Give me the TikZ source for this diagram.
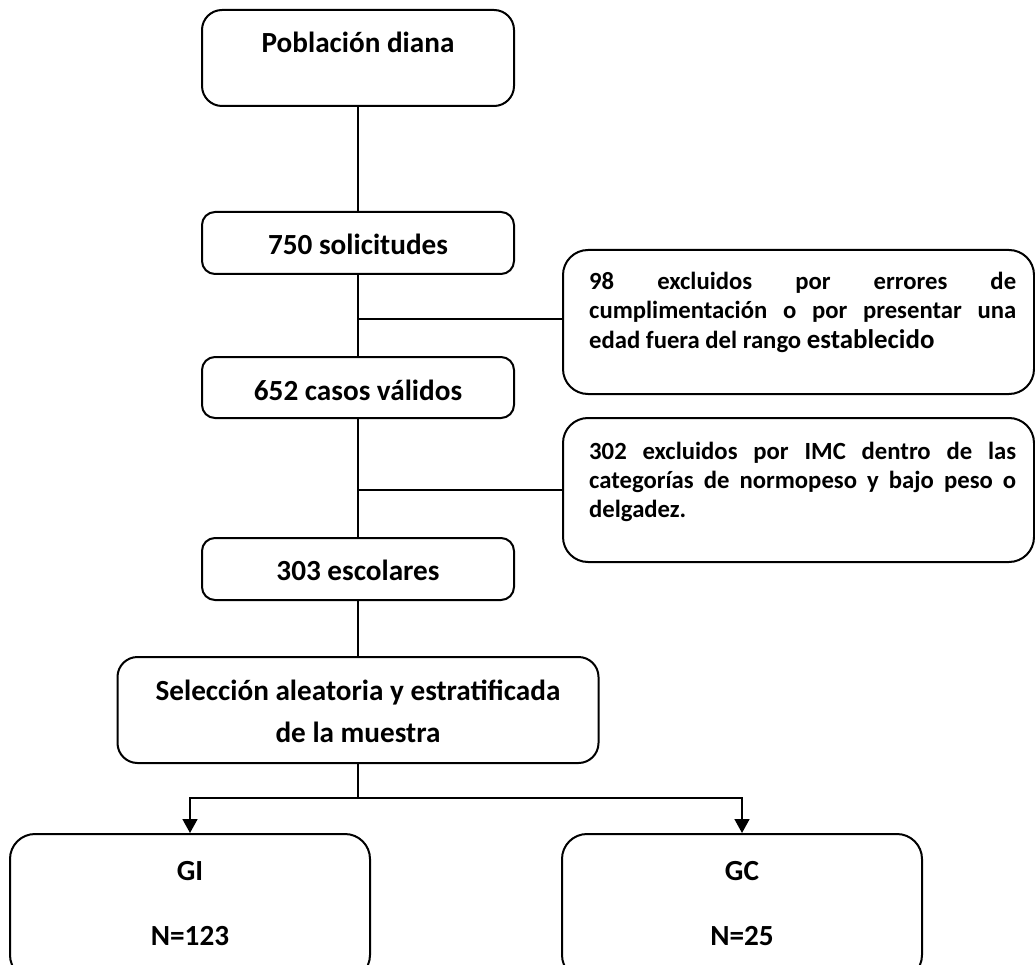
\documentclass[tikz,border=0pt]{standalone}
\usepackage{fontspec}
\setmainfont{Carlito}
\usetikzlibrary{arrows.meta}
\begin{document}
\begin{tikzpicture}[x=1pt,y=-1pt,
  box/.style={draw, line width=2pt, rounded corners=#1, inner sep=0pt},
  box/.default=13pt,
  lbl/.style={anchor=base, inner sep=0pt, font=\fontsize{29.2}{35}\selectfont\bfseries},
  sml/.style={anchor=base west, inner sep=0pt, font=\fontsize{24.7}{29}\selectfont\bfseries},
  conn/.style={line width=1.6pt},
  arr/.style={conn, -{Triangle[width=15pt,length=14pt]}}]
\path[use as bounding box] (0,0) rectangle (1035,965);
\clip (0,0) rectangle (1035,965);

% boxes
\node[box=20pt, minimum width=312pt, minimum height=96pt] (pob) at (358,58) {};
\node[box, minimum width=312pt, minimum height=62pt] (sol) at (358,243) {};
\node[box, minimum width=312pt, minimum height=61pt] (val) at (358,387.5) {};
\node[box, minimum width=312pt, minimum height=62pt] (esc) at (358,569) {};
\node[box=20pt, minimum width=481pt, minimum height=106pt] (sel) at (358,710) {};
\node[box=25pt, minimum width=471pt, minimum height=144pt] (ex1) at (798.5,322) {};
\node[box=25pt, minimum width=471pt, minimum height=144pt] (ex2) at (798.5,490) {};
\node[box=25pt, minimum width=360pt, minimum height=146pt] (gi) at (190,907) {};
\node[box=25pt, minimum width=360pt, minimum height=146pt] (gc) at (742,907) {};

% texts
\node[lbl] (tpob) at (358,53) {Población diana};
\node[lbl] (tsol) at (358,255) {750 solicitudes};
\node[lbl] (tval) at (358,400) {652 casos válidos};
\node[lbl] (tesc) at (358,580) {303 escolares};
\node[lbl] (tsel1) at (358,700) {Selección aleatoria y estratificada};
\node[lbl] (tsel2) at (358,742) {de la muestra};
\node[lbl] (tgi) at (190,880) {GI};
\node[lbl] (tgin) at (190,945) {N=123};
\node[lbl] (tgc) at (742,880) {GC};
\node[lbl] (tgcn) at (742,945) {N=25};

\node[sml] (t1a) at (589,290) {\makebox[427pt][s]{98 excluidos por errores de}};
\node[sml] (t1b) at (589,319) {\makebox[427pt][s]{cumplimentación o por presentar una}};
\node[sml] (t1c) at (589,348) {edad fuera del rango {\fontsize{26.9}{29}\selectfont establecido}};
\node[sml] (t2a) at (589,459) {\makebox[427pt][s]{302 excluidos por IMC dentro de las}};
\node[sml] (t2b) at (589,488) {\makebox[427pt][s]{categorías de normopeso y bajo peso o}};
\node[sml] (t2c) at (589,517) {delgadez.};

% connectors
\coordinate (b1) at (358,319);
\coordinate (b2) at (358,490);
\coordinate (sp) at (358,798);
\draw[conn] (pob.south) -- (sol.north);
\draw[conn] (sol.south) -- (val.north);
\draw[conn] (b1) -- (b1 -| ex1.west);
\draw[conn] (val.south) -- (esc.north);
\draw[conn] (b2) -- (b2 -| ex2.west);
\draw[conn] (esc.south) -- (sel.north);
\draw[conn] (sel.south) -- (sp);
\draw[arr] (sp) -| (gi.north);
\draw[arr] (sp) -| (gc.north);
\end{tikzpicture}
\end{document}
